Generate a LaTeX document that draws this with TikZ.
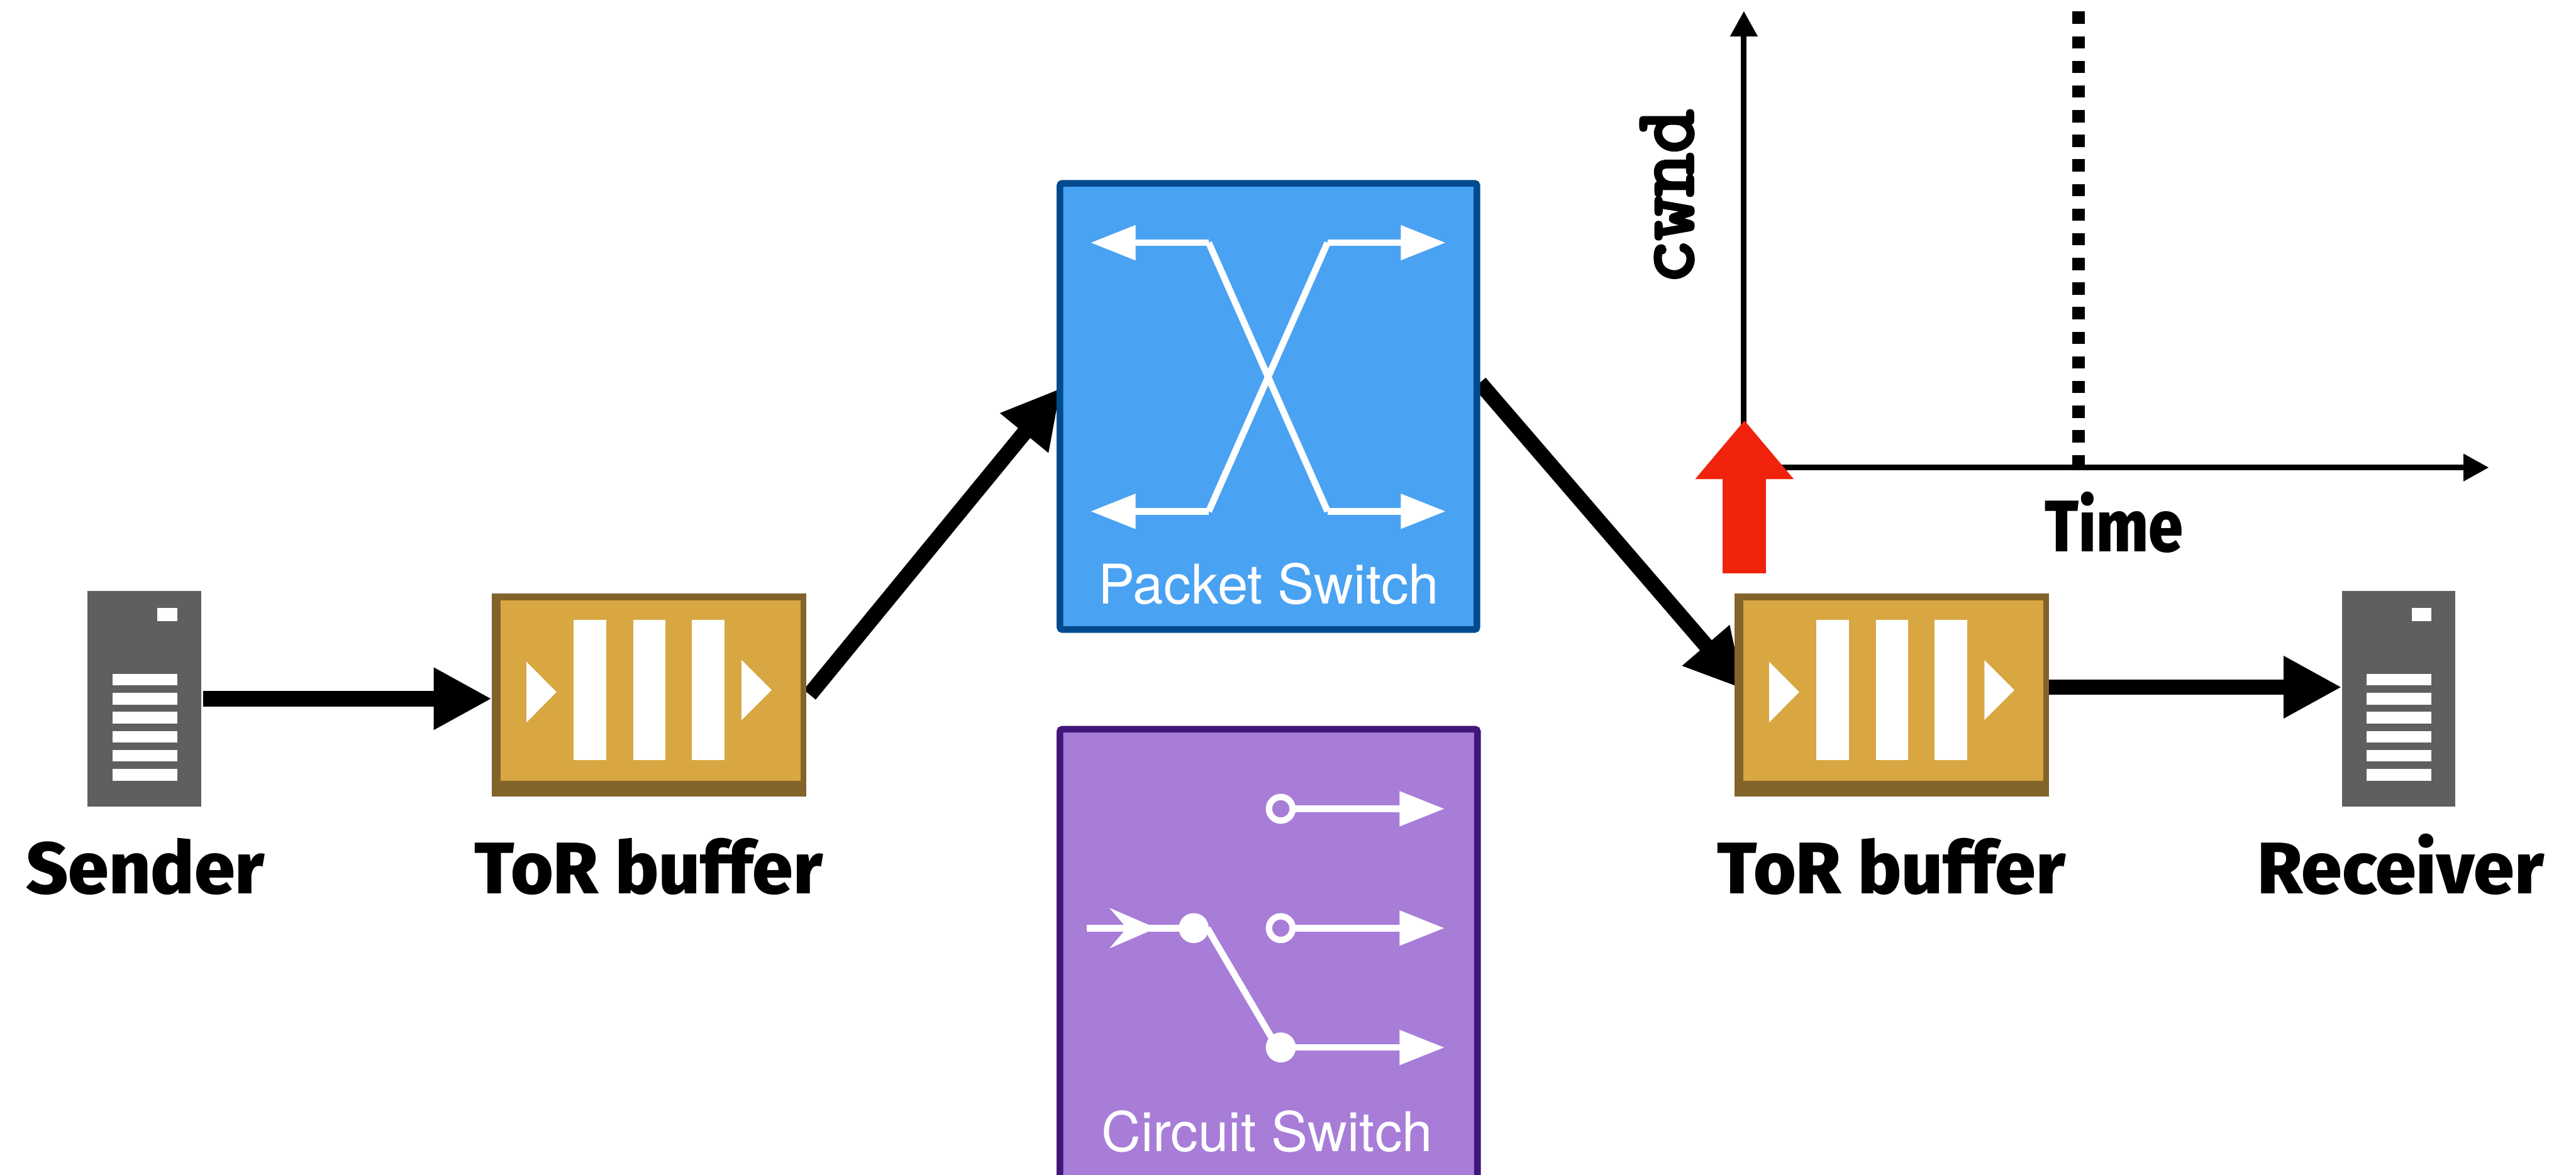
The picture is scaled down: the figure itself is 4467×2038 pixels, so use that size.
\documentclass[tikz,border=0pt]{standalone}
\usepackage{fontspec}
\usepackage{graphicx}
\usetikzlibrary{arrows.meta,calc}
\newfontfamily\labfont{Fira Sans ExtraBold}
\newfontfamily\swfont{TeX Gyre Heros}
\newfontfamily\cwfont[FakeBold=4]{Latin Modern Mono}
\definecolor{srv}{HTML}{5F5F5F}
\definecolor{torfill}{HTML}{D8A742}
\definecolor{tordark}{HTML}{826329}
\definecolor{pktfill}{HTML}{4AA2F2}
\definecolor{pktline}{HTML}{004A8F}
\definecolor{cktfill}{HTML}{A77DD8}
\definecolor{cktline}{HTML}{41167A}
\definecolor{redarrow}{HTML}{F1230D}
\pgfdeclarelayer{bg}
\pgfdeclarelayer{back}
\pgfsetlayers{bg,back,main}
\newcommand{\bx}[6][]{\node[boxnode,#1,minimum width={((#5)-(#3))*0.01cm},minimum height={((#6)-(#4))*0.01cm}] (#2) at ({((#3)+(#5))/2},{((#4)+(#6))/2}) {};}
\newcommand{\tria}[3]{\fill[white] ({#1},#2) -- ({#1},#3) -- ({#1+52},{(#2+#3)/2}) -- cycle;}
\newcommand{\serverbox}[2]{%
  \bx[fill=srv]{#1}{#2}{1025}{#2+197}{1399}
  \bx[fill=white]{#1led}{#2+121}{1055}{#2+155}{1078}
  \bx[fill=white]{#1a}{#2+43}{1169}{#2+155}{1189}
  \bx[fill=white]{#1b}{#2+43}{1202}{#2+155}{1222}
  \bx[fill=white]{#1c}{#2+43}{1235}{#2+155}{1255}
  \bx[fill=white]{#1d}{#2+43}{1268}{#2+155}{1288}
  \bx[fill=white]{#1e}{#2+43}{1301}{#2+155}{1321}
  \bx[fill=white]{#1f}{#2+43}{1334}{#2+155}{1354}}
\newcommand{\torbox}[2]{%
  \bx[fill=tordark]{#1}{#2}{1030}{#2+545}{1382}
  \bx[fill=torfill]{#1in}{#2+15}{1042}{#2+535}{1355}
  \bx[fill=white]{#1a}{#2+142}{1075}{#2+198}{1318}
  \bx[fill=white]{#1b}{#2+245}{1075}{#2+301}{1318}
  \bx[fill=white]{#1c}{#2+347}{1075}{#2+403}{1318}
  \tria{#2+60}{1148}{1253}
  \tria{#2+433}{1145}{1249}}
\tikzset{
  x=0.01cm,y=-0.01cm,
  boxnode/.style={draw=none,inner sep=0pt,outer sep=0pt,rectangle},
  biglabel/.style={anchor=base,inner sep=0pt,font=\labfont\fontsize{36}{36}\selectfont},
  swlabel/.style={anchor=base,inner sep=0pt,text=white,font=\swfont\fontsize{27}{27}\selectfont},
  flow/.style={line width=0.27cm,-{Triangle[length=1.01cm,width=1.01cm]},draw=black,fill=black},
  wline/.style={draw=white,line width=0.115cm,line join=round},
  warrow/.style={wline,-{Triangle[length=0.78cm,width=0.58cm]},fill=white},
  axisline/.style={draw=black,line width=0.1cm,-{Triangle[length=0.44cm,width=0.45cm]}},
  swbox/.style={rectangle,inner sep=0pt,outer sep=0pt,line width=0.115cm,rounded corners=0.04cm},
  contact/.style={circle,inner sep=0pt,outer sep=0pt,minimum size=0.41cm,draw=white,line width=0.11cm},
  filled/.style={fill=white},
}
\begin{document}
\begin{tikzpicture}
\clip (0,0) rectangle (4467,2038);
\begin{pgfonlayer}{bg}
\fill[white] (0,0) rectangle (4467,2038);
\end{pgfonlayer}

% chart
\coordinate (orig) at (3024,811);
\coordinate (ytop) at (3024,19);
\coordinate (xend) at (4316,811);
\draw[axisline] (orig) -- (ytop);
\draw[axisline] (orig) -- (xend);
\coordinate (dtop) at (3604,20);
\coordinate (dbot) at (3604,811);
\draw[draw=black,line width=0.22cm,dash pattern=on 0.212cm off 0.215cm] (dtop) -- (dbot);
\node[anchor=base,rotate=90,inner sep=0pt,font=\cwfont\fontsize{41.7}{42}\selectfont] (cwnd) at (2935,341) {cwnd};
\node[biglabel] (time) at (3666,957) {\scalebox{.85}[1]{Time}};

% servers and buffers
\serverbox{sender}{152}
\serverbox{receiver}{4061}
\torbox{torA}{853}
\torbox{torB}{3008}

% packet switch
\bx[draw=pktline,fill=pktfill,swbox]{pkt}{1838}{318}{2561}{1092}
\coordinate (pTL) at (1891,421);
\coordinate (pTLb) at (2096,421);
\coordinate (pBRb) at (2302,887);
\coordinate (pBR) at (2507,887);
\coordinate (pBL) at (1891,887);
\coordinate (pBLb) at (2096,887);
\coordinate (pTRb) at (2302,421);
\coordinate (pTR) at (2507,421);
\draw[wline] (pTLb) -- (pBRb);
\draw[wline] (pBLb) -- (pTRb);
\draw[warrow] (pTLb) -- (pTL);
\draw[warrow] (pBLb) -- (pBL);
\draw[warrow] (pTRb) -- (pTR);
\draw[warrow] (pBRb) -- (pBR);
\node[swlabel] (pktl) at (2200,1048) {Packet Switch};

% circuit switch
\bx[draw=cktline,fill=cktfill,swbox]{ckt}{1838}{1265}{2562}{2052}
\node[contact] (c1) at (2221,1403) {};
\node[contact] (c2) at (2221,1610) {};
\node[contact,filled] (c3) at (2221,1817) {};
\node[contact,filled] (c0) at (2070,1610) {};
\coordinate (o1) at (2505,1403);
\coordinate (o2) at (2505,1610);
\coordinate (o3) at (2505,1817);
\coordinate (inS) at (1884,1610);
\draw[warrow] (c1) -- (o1);
\draw[warrow] (c2) -- (o2);
\draw[warrow] (c3) -- (o3);
\draw[wline] ($(c0.east)+(3,0)$) -- (c3.north west);
\draw[wline] (inS) -- (c0);
\coordinate (inT) at (2005,1610);
\draw[wline,line width=0.01cm,-{Stealth[length=0.81cm,width=0.70cm,inset=0.30cm]},fill=white] (inS) -- (inT);
\node[swlabel] (cktl) at (2197,1997) {Circuit Switch};

% red arrow
\coordinate (rB) at (3025,995);
\coordinate (rT) at (3025,729);
\draw[draw=redarrow,fill=redarrow,line width=0.75cm,-{Triangle[length=1.02cm,width=1.64cm]}] (rB) -- (rT);

% connectors, under the boxes they reach
\begin{pgfonlayer}{back}
\draw[flow] ($(sender.east)+(3,0)$) -- ($(torA.west)+(0,6)$);
\draw[flow] ($(torA.east)+(6,-1)$) -- ($(pkt.west)+(2,-32)$);
\draw[flow] ($(pkt.east)+(5,-41)$) -- ($(torB.west)+(16,-10)$);
\draw[flow] ($(torB.east)+(0,-14)$) -- ($(receiver.west)+(0,-20)$);
\end{pgfonlayer}

% labels
\node[biglabel] (l1) at (252,1550) {Sender};
\node[biglabel] (l2) at (1125,1550) {ToR buffer};
\node[biglabel] (l3) at (3280,1550) {ToR buffer};
\node[biglabel] (l4) at (4163,1550) {Receiver};
\end{tikzpicture}
\end{document}
